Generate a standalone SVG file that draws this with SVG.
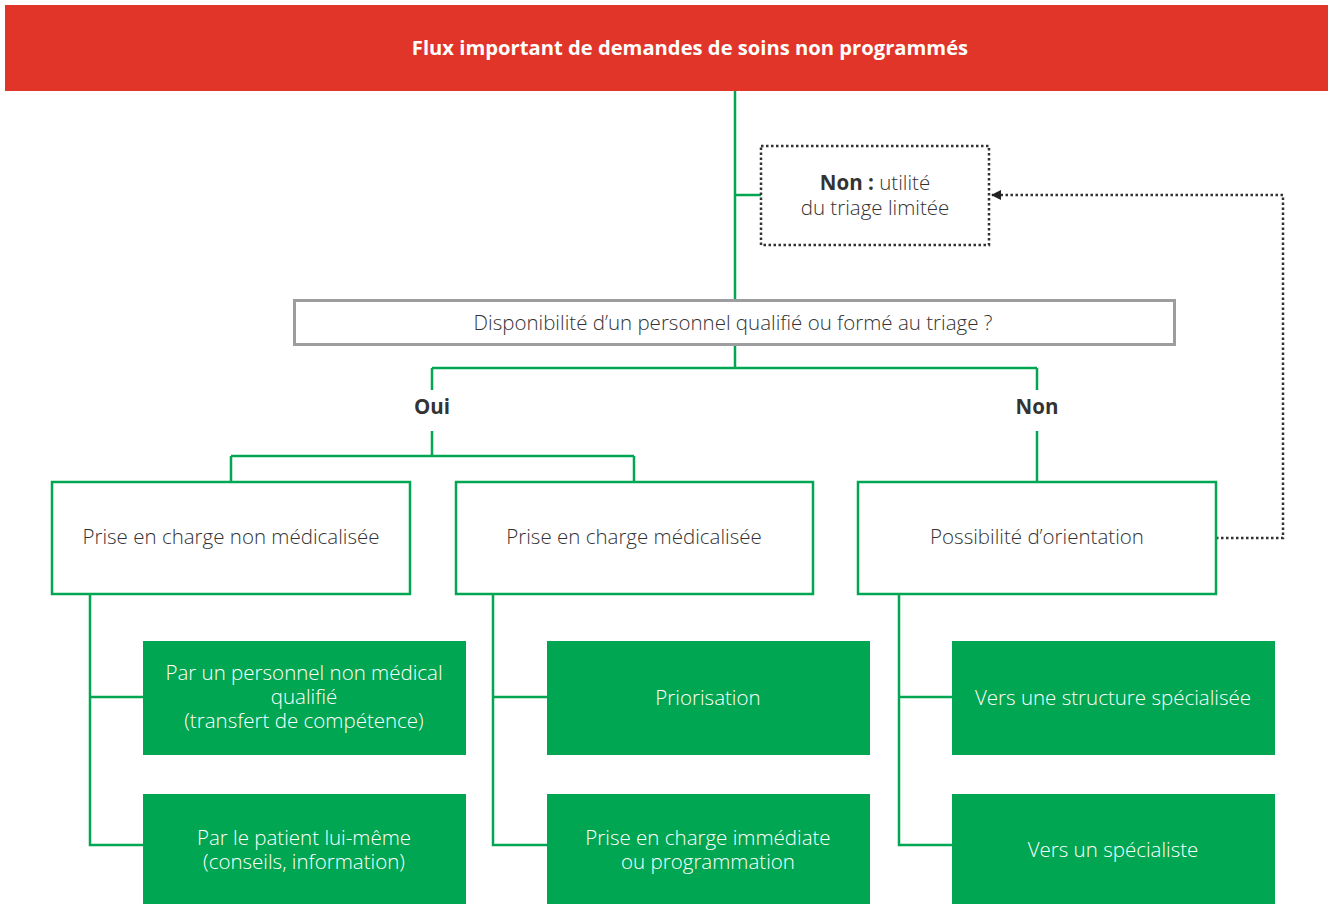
<svg xmlns="http://www.w3.org/2000/svg" width="1328" height="904" viewBox="0 0 1328 904">
  <defs>
    <style>
      .t { font-family: "Open Sans", "Noto Sans", "Liberation Sans", sans-serif; font-size: 20.5px; fill: #333333; text-anchor: middle; font-weight: 300; }
      .w { fill: #ffffff; }
      .b { font-weight: 700; }
      .title { font-family: "Open Sans", "Noto Sans", "Liberation Sans", sans-serif; font-size: 20.2px; font-weight: 700; fill: #ffffff; text-anchor: middle; }
      .link { fill: none; stroke: #00A651; stroke-width: 2.5; }
      .dot { fill: none; stroke: #333333; stroke-width: 2.5; stroke-dasharray: 2.5 2.5; }
      .outline { fill: #ffffff; stroke: #00A651; stroke-width: 2.5; }
      .solid { fill: #00A651; }
    </style>
    <marker id="arrow" markerWidth="10" markerHeight="10" refX="9" refY="5" orient="auto" markerUnits="userSpaceOnUse">
      <path d="M0,0 L10,5 L0,10 Z" fill="#222222"/>
    </marker>
  </defs>
  <rect width="1328" height="904" fill="#ffffff"/>

  <!-- connectors -->
  <g id="connectors">
    <path class="link" d="M735,91 V300"/>
    <path class="link" d="M735,195 H761"/>
    <path class="link" d="M735,345 V368 M432,368 H1037 M432,368 V390 M1037,368 V390"/>
    <path class="link" d="M432,431 V456 M231,456 H634 M231,456 V482 M634,456 V482"/>
    <path class="link" d="M1037,431 V482"/>
    <path class="link" d="M90,594 V845 H143 M90,697 H143"/>
    <path class="link" d="M493,594 V845 H547 M493,697 H547"/>
    <path class="link" d="M899,594 V845 H952 M899,697 H952"/>
    <path class="dot" d="M1216,538 H1283 V195 H992" marker-end="url(#arrow)"/>
  </g>

  <!-- header -->
  <g id="header">
    <rect x="5" y="5" width="1323" height="86" fill="#E2352A"/>
    <text class="title" x="690" y="55">Flux important de demandes de soins non programmés</text>
  </g>

  <g id="node-non-utilite">
    <rect class="dot" x="761" y="146" width="228" height="99" fill="#ffffff"/>
    <text class="t" x="875" y="190"><tspan class="b">Non :</tspan> utilité</text>
    <text class="t" x="875" y="215">du triage limitée</text>
  </g>

  <g id="node-question">
    <rect x="294.5" y="300.5" width="880" height="44" fill="#ffffff" stroke="#9D9D9F" stroke-width="3"/>
    <text class="t" x="733" y="330">Disponibilité d’un personnel qualifié ou formé au triage ?</text>
  </g>

  <g id="label-oui">
    <text class="t b" x="432" y="414">Oui</text>
  </g>
  <g id="label-non">
    <text class="t b" x="1037" y="414">Non</text>
  </g>

  <g id="node-non-medicalisee">
    <rect class="outline" x="52" y="482" width="358" height="112"/>
    <text class="t" x="231" y="544">Prise en charge non médicalisée</text>
  </g>
  <g id="node-medicalisee">
    <rect class="outline" x="456" y="482" width="357" height="112"/>
    <text class="t" x="634" y="544">Prise en charge médicalisée</text>
  </g>
  <g id="node-orientation">
    <rect class="outline" x="858" y="482" width="358" height="112"/>
    <text class="t" x="1037" y="544">Possibilité d’orientation</text>
  </g>

  <g id="node-personnel">
    <rect class="solid" x="143" y="641" width="323" height="114"/>
    <text class="t w" x="304" y="680">Par un personnel non médical</text>
    <text class="t w" x="304" y="704">qualifié</text>
    <text class="t w" x="304" y="728">(transfert de compétence)</text>
  </g>
  <g id="node-patient">
    <rect class="solid" x="143" y="794" width="323" height="110"/>
    <text class="t w" x="304" y="845">Par le patient lui-même</text>
    <text class="t w" x="304" y="869">(conseils, information)</text>
  </g>
  <g id="node-priorisation">
    <rect class="solid" x="547" y="641" width="323" height="114"/>
    <text class="t w" x="708" y="705">Priorisation</text>
  </g>
  <g id="node-immediate">
    <rect class="solid" x="547" y="794" width="323" height="110"/>
    <text class="t w" x="708" y="845">Prise en charge immédiate</text>
    <text class="t w" x="708" y="869">ou programmation</text>
  </g>
  <g id="node-structure">
    <rect class="solid" x="952" y="641" width="323" height="114"/>
    <text class="t w" x="1113" y="705">Vers une structure spécialisée</text>
  </g>
  <g id="node-specialiste">
    <rect class="solid" x="952" y="794" width="323" height="110"/>
    <text class="t w" x="1113" y="857">Vers un spécialiste</text>
  </g>
</svg>
